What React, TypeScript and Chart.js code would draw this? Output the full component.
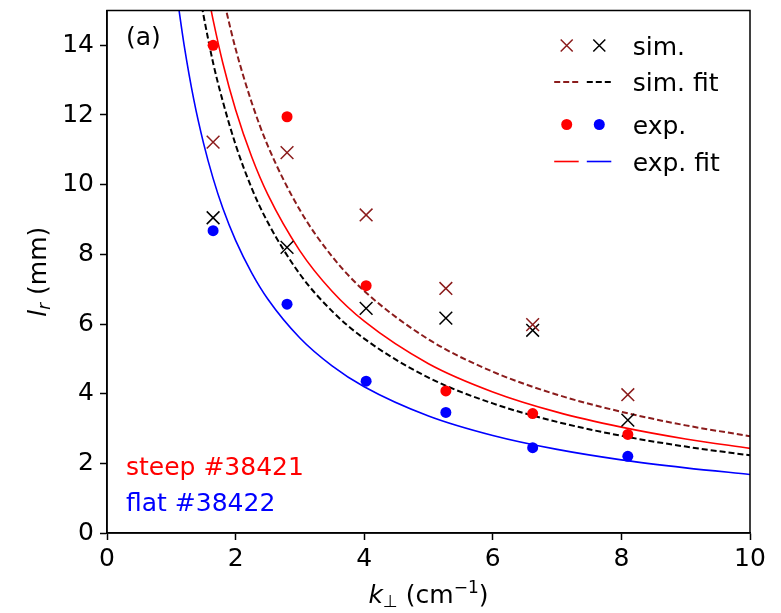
import React, { useEffect, useRef } from "react";
import { Chart, registerables } from "chart.js";

Chart.register(...registerables);

// ---------- data ----------
const K_MEAS = [1.65, 2.8, 4.03, 5.27, 6.62, 8.1];
const EXP_STEEP = [14.0, 11.95, 7.1, 4.08, 3.43, 2.83];
const EXP_FLAT = [8.68, 6.57, 4.36, 3.46, 2.45, 2.2];
const SIM_STEEP = [11.22, 10.92, 9.13, 7.02, 5.98, 3.97];
const SIM_FLAT = [9.05, 8.2, 6.45, 6.17, 5.82, 3.24];

// fit curves, read at sample k positions
const K_FIT_EXP_FLAT = [1.1, 1.2, 1.35, 1.5, 1.65, 1.8, 2.0, 2.25, 2.5, 3.0, 3.5, 4.0, 5.0, 6.0, 7.0, 8.0, 9.0, 10.0];
const FIT_EXP_FLAT = [15.27, 14.0, 12.44, 11.2, 10.18, 9.33, 8.4, 7.47, 6.72, 5.6, 4.8, 4.2, 3.36, 2.8, 2.4, 2.1, 1.87, 1.68];

const K_FIT_SIM_FLAT = [1.45, 1.5, 1.65, 1.8, 2.0, 2.25, 2.5, 3.0, 3.5, 4.0, 5.0, 6.0, 7.0, 8.0, 9.0, 10.0];
const FIT_SIM_FLAT = [15.38, 14.87, 13.5, 12.4, 11.15, 9.9, 8.92, 7.43, 6.37, 5.58, 4.46, 3.72, 3.19, 2.79, 2.48, 2.23];

const K_FIT_EXP_STEEP = [1.6, 1.65, 1.8, 2.0, 2.25, 2.5, 3.0, 3.5, 4.0, 5.0, 6.0, 7.0, 8.0, 9.0, 10.0];
const FIT_EXP_STEEP = [15.19, 14.73, 13.5, 12.15, 10.8, 9.72, 8.1, 6.94, 6.08, 4.86, 4.05, 3.47, 3.04, 2.7, 2.43];

const K_FIT_SIM_STEEP = [1.8, 1.85, 2.0, 2.25, 2.5, 3.0, 3.5, 4.0, 5.0, 6.0, 7.0, 8.0, 9.0, 10.0];
const FIT_SIM_STEEP = [15.44, 15.03, 13.9, 12.36, 11.12, 9.27, 7.94, 6.95, 5.56, 4.63, 3.97, 3.48, 3.09, 2.78];

const X_TICKS = [0, 2, 4, 6, 8, 10];
const Y_TICKS = [0, 2, 4, 6, 8, 10, 12, 14];

const LEGEND_LABELS = ["sim.", "sim. fit", "exp.", "exp. fit"];
const PANEL_LABEL = "(a)";
const SHOT_STEEP = "steep #38421";
const SHOT_FLAT = "flat #38422";

// ---------- styles ----------
const RED = "#ff0000";
const BLUE = "#0000ff";
const BROWN = "#8b1c1c";
const BLACK = "#000000";
const FONT = "DejaVu Sans";
const FS = 25;
const DASH = [6, 3];

const pts = (xs: number[], ys: number[]) => xs.map((x, i) => ({ x, y: ys[i] }));

function drawCross(ctx: CanvasRenderingContext2D, x: number, y: number, r: number, color: string) {
  ctx.save();
  ctx.strokeStyle = color;
  ctx.lineWidth = 1.5;
  ctx.beginPath();
  ctx.moveTo(x - r, y - r);
  ctx.lineTo(x + r, y + r);
  ctx.moveTo(x - r, y + r);
  ctx.lineTo(x + r, y - r);
  ctx.stroke();
  ctx.restore();
}

function drawDot(ctx: CanvasRenderingContext2D, x: number, y: number, r: number, color: string) {
  ctx.save();
  ctx.fillStyle = color;
  ctx.beginPath();
  ctx.arc(x, y, r, 0, Math.PI * 2);
  ctx.fill();
  ctx.restore();
}

function drawSeg(ctx: CanvasRenderingContext2D, x1: number, x2: number, y: number, color: string, dash: number[], lw: number) {
  ctx.save();
  ctx.strokeStyle = color;
  ctx.lineWidth = lw;
  ctx.setLineDash(dash);
  ctx.beginPath();
  ctx.moveTo(x1, y);
  ctx.lineTo(x2, y);
  ctx.stroke();
  ctx.restore();
}

type Piece = { t: string; font: string; dy: number };

function drawPieces(ctx: CanvasRenderingContext2D, pieces: Piece[], cx: number, baseY: number) {
  let total = 0;
  const widths = pieces.map((p) => {
    ctx.font = p.font;
    const w = ctx.measureText(p.t).width;
    total += w;
    return w;
  });
  let x = cx - total / 2;
  ctx.textAlign = "left";
  ctx.textBaseline = "alphabetic";
  pieces.forEach((p, i) => {
    ctx.font = p.font;
    ctx.fillText(p.t, x, baseY + p.dy);
    x += widths[i];
  });
}

const annotPlugin = {
  id: "annot",
  afterDraw(chart: any) {
    const ctx: CanvasRenderingContext2D = chart.ctx;
    const { left, top, right, bottom } = chart.chartArea;
    ctx.save();
    // frame
    ctx.strokeStyle = BLACK;
    ctx.lineWidth = 1.5;
    ctx.strokeRect(left, top, right - left, bottom - top);

    // panel label
    ctx.fillStyle = BLACK;
    ctx.font = `${FS}px ${FONT}`;
    ctx.textAlign = "left";
    ctx.textBaseline = "alphabetic";
    ctx.fillText(PANEL_LABEL, left + 19, 45);

    // shot labels
    ctx.fillStyle = RED;
    ctx.fillText(SHOT_STEEP, left + 19, 475);
    ctx.fillStyle = BLUE;
    ctx.fillText(SHOT_FLAT, left + 19, 511);

    // legend
    const m1 = right - 183.3;
    const m2 = right - 150.7;
    const tx = right - 117.3;
    const rows = [45.5, 82, 124.5, 161.5];
    drawCross(ctx, m1, rows[0], 6, BROWN);
    drawCross(ctx, m2, rows[0], 6, BLACK);
    drawSeg(ctx, m1 - 12.5, m1 + 12, rows[1], BROWN, DASH, 2);
    drawSeg(ctx, m2 - 12.5, m2 + 12, rows[1], BLACK, DASH, 2);
    drawDot(ctx, m1, rows[2], 5.5, RED);
    drawDot(ctx, m2, rows[2], 5.5, BLUE);
    drawSeg(ctx, m1 - 12.5, m1 + 12, rows[3], RED, [], 1.6);
    drawSeg(ctx, m2 - 12.5, m2 + 12, rows[3], BLUE, [], 1.6);
    ctx.fillStyle = BLACK;
    ctx.font = `${FS}px ${FONT}`;
    ctx.textAlign = "left";
    ctx.textBaseline = "alphabetic";
    LEGEND_LABELS.forEach((lab, i) => {
      ctx.fillText(lab, tx, rows[i] + 9);
    });

    // x axis title: k⊥ (cm⁻¹)
    ctx.fillStyle = BLACK;
    drawPieces(
      ctx,
      [
        { t: "k", font: `italic ${FS}px ${FONT}`, dy: 0 },
        { t: "\u22A5", font: `17px ${FONT}`, dy: 4 },
        { t: " (cm", font: `${FS}px ${FONT}`, dy: 0 },
        { t: "\u22121", font: `17px ${FONT}`, dy: -10 },
        { t: ")", font: `${FS}px ${FONT}`, dy: 0 },
      ],
      (left + right) / 2,
      603
    );

    // y axis title: l_r (mm)
    ctx.save();
    ctx.translate(46, (top + bottom) / 2);
    ctx.rotate(-Math.PI / 2);
    drawPieces(
      ctx,
      [
        { t: "l", font: `italic ${FS}px ${FONT}`, dy: 0 },
        { t: "r", font: `italic 17px ${FONT}`, dy: 4 },
        { t: " (mm)", font: `${FS}px ${FONT}`, dy: 0 },
      ],
      0,
      0
    );
    ctx.restore();

    ctx.restore();
  },
};

export default function App() {
  const ref = useRef<HTMLCanvasElement | null>(null);

  useEffect(() => {
    if (!ref.current) return;
    const fitLine = (data: any, color: string, dash: number[], lw: number) => ({
      data,
      showLine: true,
      borderColor: color,
      backgroundColor: color,
      borderWidth: lw,
      borderDash: dash,
      pointRadius: 0,
      pointHoverRadius: 0,
      cubicInterpolationMode: "monotone",
      order: 2,
    });
    const crosses = (data: any, color: string) => ({
      data,
      showLine: false,
      pointStyle: "crossRot",
      pointRadius: 9,
      pointBorderWidth: 1.5,
      borderColor: color,
      backgroundColor: color,
      order: 1,
    });
    const dots = (data: any, color: string) => ({
      data,
      showLine: false,
      pointStyle: "circle",
      pointRadius: 5.5,
      pointBorderWidth: 0,
      borderColor: color,
      backgroundColor: color,
      order: 0,
    });

    const chart = new Chart(ref.current, {
      type: "scatter",
      data: {
        datasets: [
          fitLine(pts(K_FIT_SIM_STEEP, FIT_SIM_STEEP), BROWN, DASH, 2),
          fitLine(pts(K_FIT_SIM_FLAT, FIT_SIM_FLAT), BLACK, DASH, 2),
          fitLine(pts(K_FIT_EXP_STEEP, FIT_EXP_STEEP), RED, [], 1.6),
          fitLine(pts(K_FIT_EXP_FLAT, FIT_EXP_FLAT), BLUE, [], 1.6),
          crosses(pts(K_MEAS, SIM_STEEP), BROWN),
          crosses(pts(K_MEAS, SIM_FLAT), BLACK),
          dots(pts(K_MEAS, EXP_STEEP), RED),
          dots(pts(K_MEAS, EXP_FLAT), BLUE),
        ] as any,
      },
      options: {
        animation: false,
        responsive: false,
        maintainAspectRatio: false,
        layout: { padding: { left: 0, top: 6, right: 31, bottom: 0 } },
        plugins: {
          legend: { display: false },
          tooltip: { enabled: false },
          title: { display: false },
        },
        scales: {
          x: {
            type: "linear",
            min: 0,
            max: 10,
            afterBuildTicks: (s: any) => {
              s.ticks = X_TICKS.map((v) => ({ value: v }));
            },
            afterFit: (s: any) => {
              s.height = 80;
              s.paddingLeft = 0;
              s.paddingRight = 0;
            },
            ticks: {
              color: BLACK,
              font: { family: FONT, size: FS },
              padding: 4,
              maxRotation: 0,
              autoSkip: false,
            },
            grid: {
              drawOnChartArea: false,
              drawTicks: true,
              tickLength: 7,
              tickWidth: 1.5,
              tickColor: BLACK,
            },
            border: { display: true, color: BLACK, width: 1.5 },
          },
          y: {
            type: "linear",
            min: 0,
            max: 15,
            afterBuildTicks: (s: any) => {
              s.ticks = Y_TICKS.map((v) => ({ value: v }));
            },
            afterFit: (s: any) => {
              s.width = 107;
              s.paddingTop = 0;
              s.paddingBottom = 0;
            },
            ticks: {
              color: BLACK,
              font: { family: FONT, size: FS },
              padding: 6,
              autoSkip: false,
            },
            grid: {
              drawOnChartArea: false,
              drawTicks: true,
              tickLength: 7,
              tickWidth: 1.5,
              tickColor: BLACK,
            },
            border: { display: true, color: BLACK, width: 1.5 },
          },
        },
      } as any,
      plugins: [annotPlugin],
    });
    return () => chart.destroy();
  }, []);

  return (
    <div style={{ position: "absolute", left: 0, top: 0, width: 781, height: 613, background: "#fff" }}>
      <canvas ref={ref} width={781} height={613} style={{ width: 781, height: 613, display: "block" }} />
    </div>
  );
}
